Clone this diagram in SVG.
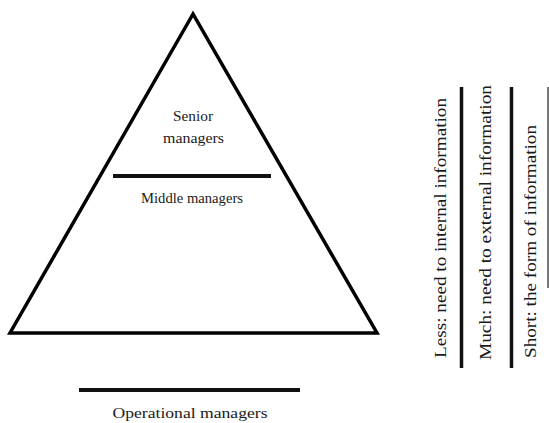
<svg xmlns="http://www.w3.org/2000/svg" width="549" height="423" viewBox="0 0 549 423">
<style>
.lbl{font-family:"Liberation Serif","Times New Roman",serif;font-size:14px;fill:#1a1a1a;text-anchor:middle}
.vt{font-family:"Liberation Serif","Times New Roman",serif;font-size:17px;fill:#1a1a1a}
.bar{stroke:#111;stroke-width:4}
.vbar{stroke:#111;stroke-width:3.5}
</style>
<rect width="549" height="423" fill="#fff"/>
<g id="pyramid">
<polygon points="193,14 10,333 377,333" fill="none" stroke="#000" stroke-width="3.5" stroke-linejoin="miter"/>
</g>
<g id="senior">
<text class="lbl" x="193" y="121" textLength="40" lengthAdjust="spacingAndGlyphs">Senior</text>
<text class="lbl" x="193.5" y="143" textLength="61" lengthAdjust="spacingAndGlyphs">managers</text>
</g>
<g id="middle">
<line class="bar" x1="113" y1="176" x2="271" y2="176"/>
<text class="lbl" x="192" y="203" textLength="102" lengthAdjust="spacingAndGlyphs">Middle managers</text>
</g>
<g id="operational">
<line class="bar" x1="79" y1="390" x2="300" y2="390"/>
<text class="lbl" x="190" y="418" textLength="155" lengthAdjust="spacingAndGlyphs">Operational managers</text>
</g>
<g id="info-less">
<text class="vt" transform="translate(446,358) rotate(-90)" textLength="260" lengthAdjust="spacingAndGlyphs">Less: need to internal information</text>
<line class="vbar" x1="461.5" y1="87" x2="461.5" y2="368"/>
</g>
<g id="info-much">
<text class="vt" transform="translate(491,360) rotate(-90)" textLength="275" lengthAdjust="spacingAndGlyphs">Much: need to external information</text>
<line class="vbar" x1="511.5" y1="87" x2="511.5" y2="368"/>
</g>
<g id="info-short">
<text class="vt" transform="translate(536,358) rotate(-90)" textLength="233" lengthAdjust="spacingAndGlyphs">Short: the form of information</text>
<line x1="548" y1="87" x2="548" y2="288" stroke="#777" stroke-width="2"/>
</g>
</svg>
